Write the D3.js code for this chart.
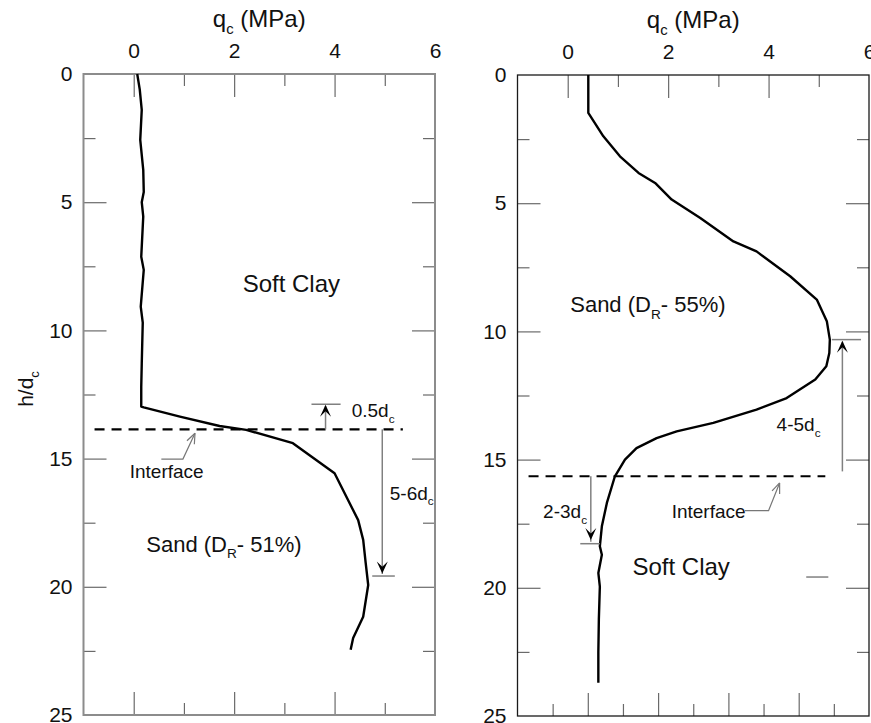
<!DOCTYPE html>
<html>
<head>
<meta charset="utf-8">
<script src="https://cdn.jsdelivr.net/npm/d3@7"></script>
<style>
  html, body { margin: 0; padding: 0; background: #fff; }
  svg { display: block; font-family: "Liberation Sans", Arial, sans-serif; }
</style>
</head>
<body>
<svg id="chart" width="871" height="723"></svg>
<script>
// Cone resistance profiles: q_c (MPa) against normalised depth h/d_c
const leftQ = [0.07, 0.12, 0.16, 0.13, 0.19, 0.2, 0.16, 0.19, 0.15, 0.2, 0.14, 0.18, 0.16, 0.15, 0.15, 0.2, 0.92, 1.71, 2.24, 3.17, 4.0, 4.47, 4.57, 4.62, 4.67, 4.57, 4.37, 4.32];
const leftH = [0, 0.6, 1.4, 2.57, 3.74, 4.6, 5.0, 5.56, 7.13, 7.64, 9.07, 9.7, 11.3, 12.2, 12.97, 13.0, 13.36, 13.73, 13.88, 14.4, 15.57, 17.4, 18.17, 19.08, 19.93, 21.17, 22.0, 22.46];

const rightQ = [0.41, 0.41, 0.71, 1.04, 1.41, 1.74, 2.07, 2.64, 3.30, 3.76, 4.43, 4.96, 5.16, 5.22, 5.21, 5.15, 4.93, 4.36, 3.76, 2.9, 2.17, 1.77, 1.37, 1.14, 0.94, 0.78, 0.68, 0.64, 0.68, 0.61, 0.64, 0.62, 0.61, 0.61];
const rightH = [0, 1.48, 2.39, 3.17, 3.82, 4.21, 4.86, 5.58, 6.49, 6.88, 7.85, 8.76, 9.6, 10.32, 10.84, 11.36, 11.88, 12.6, 13.05, 13.57, 13.9, 14.16, 14.55, 15.0, 15.65, 16.69, 17.6, 18.38, 18.71, 19.42, 19.95, 21.24, 22.5, 23.7];

// Axis ticks
const qMajor = [0, 2, 4];
const qMinor = [1, 3, 5];
const qLabels = [0, 2, 4, 6];
const hMajor = [5, 10, 15, 20];
const hMinor = [2.5, 7.5, 12.5, 17.5, 22.5];
const hLabels = [0, 5, 10, 15, 20, 25];
const rightBottomMajor = [2, 4, 6, 8];
const rightBottomMinor = [1, 3, 5, 7, 9];

// Interface depths
const leftInterface = 13.86;
const rightInterface = 15.65;

const svg = d3.select("#chart");
const W = 351.5, H = 641;
const NOTE = 19;   // annotation font size
const LAYER = 24;  // soil layer label size

function subText(g, x, y, parts, size, anchor) {
  const t = g.append("text").attr("x", x).attr("y", y)
    .attr("font-size", size).attr("fill", "#111")
    .attr("text-anchor", anchor || "start");
  let inSub = false;
  parts.forEach(([s, sub]) => {
    if (sub) {
      t.append("tspan").attr("dy", size * 0.3).attr("font-size", size * 0.62).text(s);
      inSub = true;
    } else {
      t.append("tspan").attr("dy", inSub ? -size * 0.3 : 0).text(s);
      inSub = false;
    }
  });
  return t;
}

function arrowHead(g, x, y, dir) {
  // filled chevron pointing up (dir=-1) or down (dir=1)
  const L = 12, w = 5.5;
  const p = d3.path();
  p.moveTo(x, y);
  p.lineTo(x - w, y - dir * L);
  p.lineTo(x, y - dir * L * 0.55);
  p.lineTo(x + w, y - dir * L);
  p.closePath();
  g.append("path").attr("d", p.toString()).attr("fill", "#000");
}

function openHead(g, x1, y1, x2, y2) {
  // open arrowhead at (x2,y2) for a leader coming from (x1,y1)
  const a = Math.atan2(y2 - y1, x2 - x1), L = 11, s = 0.38;
  [a + Math.PI - s, a + Math.PI + s].forEach(b => {
    g.append("line").attr("x1", x2).attr("y1", y2)
      .attr("x2", x2 + L * Math.cos(b)).attr("y2", y2 + L * Math.sin(b))
      .attr("stroke", "#777").attr("stroke-width", 1.2);
  });
}

function panel(ox, oy, opts) {
  const g = svg.append("g").attr("transform", `translate(${ox},${oy})`);
  const x = d3.scaleLinear().domain([-1, 6]).range([0, W]);
  const y = d3.scaleLinear().domain([0, 25]).range([0, H]);

  const tickStyle = sel => {
    sel.select(".domain").remove();
    sel.selectAll(".tick line").attr("stroke", "#6a6a6a").attr("stroke-width", 1.2);
    sel.selectAll("text").remove();
  };

  // top ticks
  g.append("g").call(d3.axisBottom(x).tickValues(qMajor).tickSize(23)).call(tickStyle);
  g.append("g").call(d3.axisBottom(x).tickValues(qMinor).tickSize(12)).call(tickStyle);
  // bottom ticks
  const xb = opts.bottomScale || x;
  g.append("g").attr("transform", `translate(0,${H})`)
    .call(d3.axisTop(xb).tickValues(opts.bottomMajor || qMajor).tickSize(23)).call(tickStyle);
  g.append("g").attr("transform", `translate(0,${H})`)
    .call(d3.axisTop(xb).tickValues(opts.bottomMinor || qMinor).tickSize(12)).call(tickStyle);
  // left/right ticks
  g.append("g").call(d3.axisRight(y).tickValues(hMajor).tickSize(23)).call(tickStyle);
  g.append("g").call(d3.axisRight(y).tickValues(hMinor).tickSize(12)).call(tickStyle);
  g.append("g").attr("transform", `translate(${W},0)`)
    .call(d3.axisLeft(y).tickValues(hMajor).tickSize(23)).call(tickStyle);
  g.append("g").attr("transform", `translate(${W},0)`)
    .call(d3.axisLeft(y).tickValues(hMinor).tickSize(12)).call(tickStyle);

  // frame
  g.append("rect").attr("width", W).attr("height", H)
    .attr("fill", "none").attr("stroke", opts.frame).attr("stroke-width", opts.frameW);

  // tick labels
  const lab = sel => {
    sel.select(".domain").remove();
    sel.selectAll(".tick line").remove();
    sel.selectAll("text").attr("font-size", 21).attr("fill", "#111")
      .attr("font-family", "Liberation Sans, Arial, sans-serif");
  };
  const fmt = d3.format("d");
  g.append("g").call(d3.axisTop(x).tickValues(qLabels).tickFormat(fmt).tickSize(0).tickPadding(16)).call(lab);
  g.append("g").call(d3.axisLeft(y).tickValues(hLabels).tickFormat(fmt).tickSize(0).tickPadding(11)).call(lab);

  // axis title
  subText(g, x(2.5), -47, [["q", false], ["c", true], [" (MPa)", false]], 24, "middle");

  return { g, x, y };
}

function profile(p, qs, hs) {
  const line = d3.line().x((d, i) => p.x(qs[i])).y((d, i) => p.y(hs[i]));
  p.g.append("path").attr("d", line(qs)).attr("fill", "none")
    .attr("stroke", "#000").attr("stroke-width", 2.4).attr("stroke-linejoin", "round");
}

function dashed(p, h, q1, q2) {
  p.g.append("line").attr("x1", p.x(q1)).attr("x2", p.x(q2))
    .attr("y1", p.y(h)).attr("y2", p.y(h))
    .attr("stroke", "#000").attr("stroke-width", 2.2).attr("stroke-dasharray", "10,7");
}

function grey(p, q1, h1, q2, h2) {
  p.g.append("line").attr("x1", p.x(q1)).attr("y1", p.y(h1))
    .attr("x2", p.x(q2)).attr("y2", p.y(h2))
    .attr("stroke", "#808080").attr("stroke-width", 1.5);
}

// ---- Left panel: soft clay over sand ----
const L = panel(83.5, 74, { frame: "#8c8c8c", frameW: 2 });
profile(L, leftQ, leftH);
dashed(L, leftInterface, -0.78, 5.36);

// 0.5 d_c marker
grey(L, 3.54, 12.88, 4.12, 12.88);
grey(L, 3.82, leftInterface, 3.82, 12.95);
arrowHead(L.g, L.x(3.82), L.y(12.9), -1);
subText(L.g, L.x(4.34), L.y(13.38), [["0.5d", false], ["c", true]], NOTE);

// 5-6 d_c marker
grey(L, 4.95, leftInterface, 4.95, 19.5);
arrowHead(L.g, L.x(4.95), L.y(19.48), 1);
grey(L, 4.75, 19.58, 5.2, 19.58);
subText(L.g, L.x(5.1), L.y(16.6), [["5-6d", false], ["c", true]], NOTE);

// Interface leader
L.g.append("polyline")
  .attr("points", [[L.x(0.55), L.y(15.02)], [L.x(0.98), L.y(15.02)], [L.x(1.22), L.y(14.01)]].map(d => d.join(",")).join(" "))
  .attr("fill", "none").attr("stroke", "#777").attr("stroke-width", 1.2);
openHead(L.g, L.x(0.98), L.y(15.02), L.x(1.22), L.y(14.01));
subText(L.g, L.x(-0.08), L.y(15.74), [["Interface", false]], NOTE);

subText(L.g, L.x(2.17), L.y(8.49), [["Soft Clay", false]], LAYER);
subText(L.g, L.x(0.25), L.y(18.63), [["Sand (D", false], ["R", true], ["- 51%)", false]], 22);

// y-axis title
svg.append("g").attr("transform", "translate(33,389) rotate(-90)")
  .call(g => subText(g, 0, 0, [["h/d", false], ["c", true]], 21, "middle"));

// ---- Right panel: sand over soft clay ----
const rb = d3.scaleLinear().domain([0, 10]).range([0, W]);
const R = panel(517.5, 75, {
  frame: "#1a1a1a", frameW: 1.3, bottomScale: rb,
  bottomMajor: rightBottomMajor, bottomMinor: rightBottomMinor
});
profile(R, rightQ, rightH);
dashed(R, rightInterface, -0.78, 5.13);

// 4-5 d_c marker
grey(R, 5.26, 10.32, 5.84, 10.32);
grey(R, 5.47, 15.46, 5.47, 10.4);
arrowHead(R.g, R.x(5.47), R.y(10.36), -1);
subText(R.g, R.x(4.16), R.y(13.9), [["4-5d", false], ["c", true]], NOTE);

// 2-3 d_c marker
grey(R, 0.46, rightInterface, 0.46, 18.2);
arrowHead(R.g, R.x(0.46), R.y(18.14), 1);
grey(R, 0.25, 18.28, 0.64, 18.28);
subText(R.g, R.x(-0.49), R.y(17.28), [["2-3d", false], ["c", true]], NOTE);

// Interface leader
R.g.append("polyline")
  .attr("points", [[R.x(3.53), R.y(16.99)], [R.x(4.0), R.y(16.99)], [R.x(4.22), R.y(15.91)]].map(d => d.join(",")).join(" "))
  .attr("fill", "none").attr("stroke", "#777").attr("stroke-width", 1.2);
openHead(R.g, R.x(4.0), R.y(16.99), R.x(4.22), R.y(15.91));
subText(R.g, R.x(2.07), R.y(17.26), [["Interface", false]], NOTE);

subText(R.g, R.x(1.29), R.y(19.49), [["Soft Clay", false]], LAYER);
subText(R.g, R.x(0.05), R.y(9.26), [["Sand (D", false], ["R", true], ["- 55%)", false]], 22);
grey(R, 4.75, 19.58, 5.19, 19.58);
</script>
</body>
</html>
